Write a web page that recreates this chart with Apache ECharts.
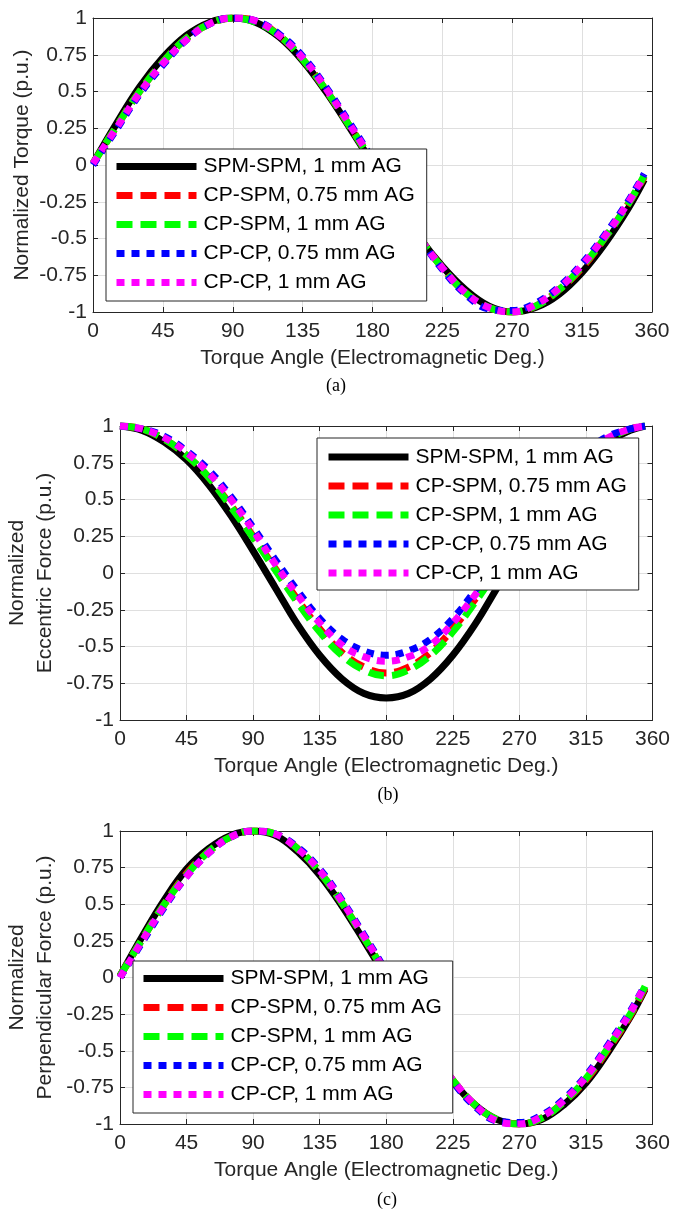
<!DOCTYPE html>
<html>
<head>
<meta charset="utf-8">
<script src="https://cdn.jsdelivr.net/npm/echarts@6/dist/echarts.min.js"></script>
<style>html,body{margin:0;padding:0;background:#fff}#c{width:673px;height:1211px}</style>
</head>
<body>
<div id="c"></div>
<script>
// ---------- data ----------
const angles = [0,15,30,45,60,75,90,105,120,135,150,165,180,195,210,225,240,255,270,285,300,315,330,345,355];
const seriesNames = ['SPM-SPM, 1 mm AG','CP-SPM, 0.75 mm AG','CP-SPM, 1 mm AG','CP-CP, 0.75 mm AG','CP-CP, 1 mm AG'];
const xTickInterval = 45;
const yTickInterval = 0.25;
const xTitle = 'Torque Angle (Electromagnetic Deg.)';
const yTitles = ['Normalized Torque (p.u.)', 'Normalized\nEccentric Force (p.u.)', 'Normalized\nPerpendicular Force (p.u.)'];
const captions = ['(a)', '(b)', '(c)'];

// (a) Normalized torque
const torqueSpmSpm1   = [0.01,0.28,0.53,0.73,0.88,0.97,1.00,0.97,0.87,0.71,0.50,0.26,0.01,-0.25,-0.49,-0.69,-0.85,-0.96,-1.00,-0.97,-0.88,-0.73,-0.53,-0.29,-0.10];
const torqueCpSpm075  = [0.01,0.26,0.50,0.70,0.86,0.96,1.00,0.98,0.88,0.72,0.51,0.27,0.02,-0.25,-0.49,-0.70,-0.87,-0.97,-1.00,-0.96,-0.85,-0.70,-0.49,-0.26,-0.08];
const torqueCpSpm1    = [0.01,0.26,0.50,0.70,0.86,0.96,1.00,0.97,0.88,0.72,0.51,0.27,0.02,-0.24,-0.49,-0.70,-0.87,-0.97,-1.00,-0.96,-0.85,-0.69,-0.49,-0.26,-0.07];
const torqueCpCp075   = [0.00,0.24,0.48,0.68,0.85,0.96,1.00,0.98,0.89,0.74,0.53,0.29,0.04,-0.23,-0.49,-0.71,-0.88,-0.98,-0.99,-0.94,-0.83,-0.67,-0.47,-0.24,-0.06];
const torqueCpCp1     = [0.01,0.25,0.49,0.69,0.85,0.96,1.00,0.98,0.88,0.73,0.52,0.28,0.03,-0.24,-0.49,-0.70,-0.87,-0.97,-1.00,-0.95,-0.84,-0.68,-0.48,-0.25,-0.07];

// (b) Normalized eccentric force
const eccSpmSpm1  = [1.00,0.97,0.89,0.77,0.60,0.39,0.15,-0.10,-0.35,-0.56,-0.72,-0.82,-0.85,-0.82,-0.72,-0.56,-0.35,-0.10,0.15,0.39,0.60,0.77,0.89,0.97,1.00];
const eccCpSpm075 = [1.00,0.98,0.91,0.80,0.65,0.46,0.25,0.03,-0.18,-0.38,-0.54,-0.64,-0.68,-0.64,-0.54,-0.38,-0.18,0.03,0.25,0.46,0.65,0.80,0.91,0.98,1.00];
const eccCpSpm1   = [1.00,0.98,0.91,0.80,0.65,0.45,0.24,0.02,-0.20,-0.40,-0.56,-0.66,-0.70,-0.66,-0.56,-0.40,-0.20,0.02,0.24,0.45,0.65,0.80,0.91,0.98,1.00];
const eccCpCp075  = [1.00,0.98,0.93,0.83,0.70,0.52,0.31,0.09,-0.12,-0.31,-0.45,-0.53,-0.56,-0.53,-0.45,-0.31,-0.12,0.09,0.31,0.52,0.70,0.83,0.93,0.98,1.00];
const eccCpCp1    = [1.00,0.98,0.92,0.82,0.68,0.50,0.29,0.06,-0.15,-0.34,-0.49,-0.57,-0.60,-0.57,-0.49,-0.34,-0.15,0.06,0.29,0.50,0.68,0.82,0.92,0.98,1.00];

// (c) Normalized perpendicular force
const perpSpmSpm1  = [0.01,0.28,0.53,0.74,0.88,0.97,1.00,0.97,0.86,0.70,0.49,0.25,0.00,-0.26,-0.50,-0.71,-0.87,-0.97,-1.00,-0.97,-0.87,-0.72,-0.51,-0.27,-0.08];
const perpCpSpm075 = [0.01,0.26,0.50,0.71,0.86,0.96,1.00,0.98,0.88,0.72,0.51,0.27,0.02,-0.24,-0.49,-0.70,-0.87,-0.97,-1.00,-0.96,-0.85,-0.70,-0.49,-0.26,-0.07];
const perpCpSpm1   = [0.01,0.26,0.50,0.70,0.86,0.96,1.00,0.98,0.88,0.72,0.51,0.27,0.02,-0.25,-0.49,-0.70,-0.87,-0.97,-1.00,-0.96,-0.85,-0.69,-0.48,-0.25,-0.06];
const perpCpCp075  = [0.00,0.24,0.48,0.69,0.85,0.96,1.00,0.98,0.89,0.74,0.53,0.29,0.04,-0.23,-0.49,-0.71,-0.88,-0.98,-0.99,-0.94,-0.83,-0.67,-0.46,-0.23,-0.05];
const perpCpCp1    = [0.00,0.25,0.49,0.69,0.85,0.96,1.00,0.98,0.88,0.73,0.52,0.28,0.03,-0.24,-0.49,-0.70,-0.87,-0.98,-1.00,-0.95,-0.84,-0.68,-0.47,-0.24,-0.05];

const panels = [
  [torqueSpmSpm1, torqueCpSpm075, torqueCpSpm1, torqueCpCp075, torqueCpCp1],
  [eccSpmSpm1, eccCpSpm075, eccCpSpm1, eccCpCp075, eccCpCp1],
  [perpSpmSpm1, perpCpSpm075, perpCpSpm1, perpCpCp075, perpCpCp1]
];

// ---------- styles ----------
const colors = ['#000000', '#ff0000', '#00ff00', '#0000ff', '#ff00ff'];
const dashes = ['solid', [16, 8], [16, 8], [8, 7], [8, 7]];
const FONT = 'Liberation Sans, Arial, Helvetica, sans-serif';
const AX = '#262626';
const grids = [
  {left: 93, top: 18, width: 559, height: 294},
  {left: 120, top: 426, width: 536, height: 294},
  {left: 120, top: 831, width: 535, height: 293}
];
const legendPos = [
  {left: 106, top: 149, padding: [7, 12, 8, 7]},
  {left: 317, top: 438, padding: [8.5, 12, 6.5, 8]},
  {left: 133, top: 961, padding: [7, 11, 8, 7]}
];
const yTitleX = [22, 31, 31];
const captionPos = [[336, 386], [388, 795], [387, 1200]];

const xAxes = [], yAxes = [], series = [], legends = [], graphics = [];
grids.forEach((g, p) => {
  xAxes.push({
    type: 'value', gridIndex: p, min: 0, max: 360, interval: xTickInterval, position: 'bottom',
    name: xTitle, nameLocation: 'middle', nameGap: 36,
    nameTextStyle: {fontSize: 21, fontFamily: FONT, color: AX, verticalAlign: 'top'},
    axisLine: {onZero: false, lineStyle: {color: AX, width: 1}},
    axisTick: {inside: true, length: 5, lineStyle: {color: AX}},
    axisLabel: {margin: 9, fontSize: 21, fontFamily: FONT, color: AX},
    splitLine: {show: true, lineStyle: {color: '#dfdfdf', width: 1}}
  });
  xAxes.push({
    type: 'value', gridIndex: p, min: 0, max: 360, interval: xTickInterval, position: 'top',
    axisLine: {onZero: false, lineStyle: {color: AX, width: 1}},
    axisTick: {inside: true, length: 5, lineStyle: {color: AX}},
    axisLabel: {show: false}, splitLine: {show: false}
  });
  yAxes.push({
    type: 'value', gridIndex: p, min: -1, max: 1, interval: yTickInterval, position: 'left',
    axisLine: {show: true, onZero: false, lineStyle: {color: AX, width: 1}},
    axisTick: {show: true, inside: true, length: 5, lineStyle: {color: AX}},
    axisLabel: {margin: 6, fontSize: 21, fontFamily: FONT, color: AX},
    splitLine: {show: true, lineStyle: {color: '#dfdfdf', width: 1}}
  });
  yAxes.push({
    type: 'value', gridIndex: p, min: -1, max: 1, interval: yTickInterval, position: 'right',
    axisLine: {show: true, onZero: false, lineStyle: {color: AX, width: 1}},
    axisTick: {show: true, inside: true, length: 5, lineStyle: {color: AX}},
    axisLabel: {show: false}, splitLine: {show: false}
  });
  panels[p].forEach((vals, s) => {
    series.push({
      type: 'line', name: seriesNames[s], xAxisIndex: 2 * p, yAxisIndex: 2 * p,
      data: angles.map((a, i) => [a, vals[i]]),
      smooth: 0.4, symbol: 'none', showSymbol: false, animation: false,
      lineStyle: {color: colors[s], width: 7, type: dashes[s], cap: 'butt', join: 'round'},
      itemStyle: {color: colors[s]},
      z: 2
    });
  });
  legends.push(Object.assign({
    orient: 'vertical', itemGap: 8, itemWidth: 80, itemHeight: 14, z: 20,
    data: seriesNames, selectedMode: false,
    backgroundColor: '#ffffff', borderColor: AX, borderWidth: 1, borderRadius: 0,
    textStyle: {fontSize: 21, fontFamily: FONT, color: '#000', lineHeight: 21, padding: [0, 0, 0, 2]},
    lineStyle: {width: 'inherit', type: 'inherit', cap: 'butt'},
    itemStyle: {opacity: 0}
  }, legendPos[p]));
  graphics.push({
    type: 'text', x: yTitleX[p], y: g.top + g.height / 2, rotation: Math.PI / 2,
    style: {text: yTitles[p], fontSize: 21, fontFamily: FONT, fill: AX, align: 'center', verticalAlign: 'middle', lineHeight: 28}
  });
  graphics.push({
    type: 'text', x: captionPos[p][0], y: captionPos[p][1],
    style: {text: captions[p], fontSize: 18, fontFamily: 'Liberation Serif, Times New Roman, serif', fill: '#000', align: 'center', verticalAlign: 'middle'}
  });
});

const chart = echarts.init(document.getElementById('c'), null, {renderer: 'canvas'});
chart.setOption({
  backgroundColor: '#ffffff',
  animation: false,
  grid: grids.map(g => Object.assign({containLabel: false}, g)),
  xAxis: xAxes,
  yAxis: yAxes,
  legend: legends,
  series: series,
  graphic: graphics
});
</script>
</body>
</html>
